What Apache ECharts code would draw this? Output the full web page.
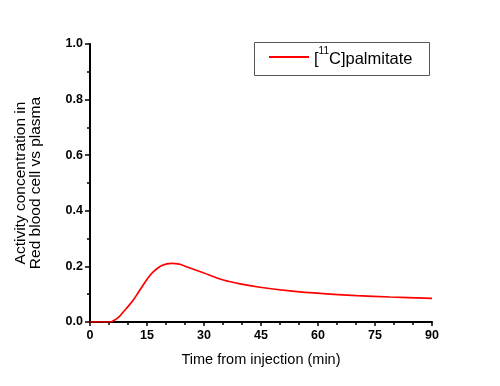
<!DOCTYPE html>
<html><head><meta charset="utf-8">
<script src="https://cdn.jsdelivr.net/npm/echarts@6/dist/echarts.min.js"></script>
<style>html,body{margin:0;padding:0;background:#fff}#c{width:500px;height:386px}</style>
</head><body><div id="c"></div>
<script>
var times = [0, 2, 4, 5.3, 6.5, 7.7, 8.8, 10.1, 11.4, 12.7, 14.0, 15.3, 16.7, 18.9, 21.5, 23.5, 25.4, 29.8, 35.1, 39.5, 44.7, 52.6, 61.4, 70.2, 78.9, 90];
var palmitate = [0, 0, 0, 0, 0.007, 0.019, 0.037, 0.057, 0.079, 0.106, 0.133, 0.159, 0.181, 0.203, 0.211, 0.208, 0.199, 0.177, 0.151, 0.137, 0.125, 0.112, 0.102, 0.095, 0.090, 0.085];
var xTicks = [0, 15, 30, 45, 60, 75, 90];
var yTicks = [0.0, 0.2, 0.4, 0.6, 0.8, 1.0];
var seriesName = '[11C]palmitate';

var data = times.map(function (t, i) { return [t, palmitate[i]]; });
var chart = echarts.init(document.getElementById('c'), null, {renderer: 'canvas'});
var font = 'Liberation Sans, Arial, sans-serif';
chart.setOption({
  animation: false,
  backgroundColor: '#fff',
  grid: {left: 90, right: 68, top: 44, bottom: 64},
  graphic: [{
    type: 'rect', left: 252, top: 40, silent: true,
    shape: {width: 175, height: 33},
    style: {fill: 'none', stroke: '#555', lineWidth: 1}
  }],
  legend: {
    data: [seriesName],
    left: 269, top: 46, padding: 0,
    itemWidth: 40, itemHeight: 2, itemGap: 4,
    icon: 'rect',
    formatter: function () { return '{n|[}{sup|11}{n|C]palmitate}'; },
    textStyle: {fontFamily: font, fontSize: 16.5, color: '#000',
      rich: {
        n: {fontFamily: font, fontSize: 16.5, lineHeight: 22, verticalAlign: 'bottom', color: '#000'},
        sup: {fontFamily: font, fontSize: 10, lineHeight: 12, verticalAlign: 'top', color: '#000'}
      }}
  },
  xAxis: {
    type: 'value', min: 0, max: 90, interval: 15,
    name: 'Time from injection (min)', nameLocation: 'middle', nameGap: 30,
    nameTextStyle: {fontFamily: font, fontSize: 14.5, color: '#000'},
    axisLine: {lineStyle: {color: '#000', width: 2}},
    axisTick: {show: true, length: 4, lineStyle: {color: '#000', width: 1.5}},
    minorTick: {show: true, splitNumber: 3, length: 3, lineStyle: {color: '#000', width: 1.5}},
    splitLine: {show: false},
    axisLabel: {fontFamily: font, fontSize: 12.5, fontWeight: 'bold', color: '#000', margin: 7,
      formatter: function (v) { return xTicks.indexOf(v) >= 0 ? String(v) : ''; }}
  },
  yAxis: {
    type: 'value', min: 0, max: 1, interval: 0.2,
    name: 'Activity concentration in\nRed blood cell vs plasma', nameLocation: 'middle', nameGap: 47,
    nameTextStyle: {fontFamily: font, fontSize: 15.5, color: '#000', lineHeight: 15},
    axisLine: {show: true, lineStyle: {color: '#000', width: 2}},
    axisTick: {show: true, length: 5, lineStyle: {color: '#000', width: 1.5}},
    minorTick: {show: true, splitNumber: 2, length: 3, lineStyle: {color: '#000', width: 1.5}},
    splitLine: {show: false},
    axisLabel: {fontFamily: font, fontSize: 12.5, fontWeight: 'bold', color: '#000', margin: 7,
      formatter: function (v) { return v.toFixed(1); }}
  },
  series: [{
    name: seriesName, type: 'line', data: data, smooth: 0.3, showSymbol: false,
    lineStyle: {color: '#ff0000', width: 1.7}, itemStyle: {color: '#ff0000'}
  }]
});
</script></body></html>
